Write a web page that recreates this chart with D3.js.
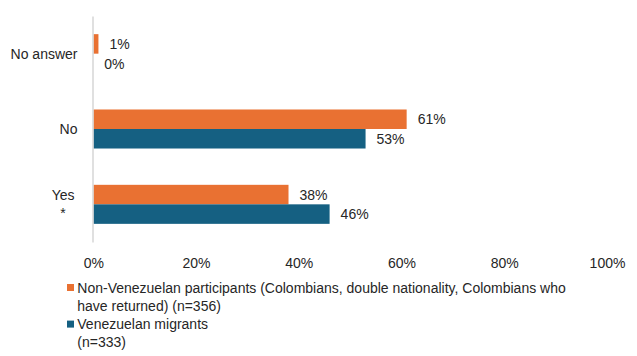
<!DOCTYPE html>
<html>
<head>
<meta charset="utf-8">
<script src="https://cdn.jsdelivr.net/npm/d3@7"></script>
<style>
  html, body { margin: 0; padding: 0; background: #fff; }
  svg { display: block; font-family: "Liberation Sans", Arial, sans-serif; }
</style>
</head>
<body>
<svg id="chart" width="637" height="356"></svg>
<script>
// Answer categories, top to bottom; each entry is one or more label lines
const categories = ["No answer", "No", "Yes"];
const categoryLines = [["No answer"], ["No"], ["Yes", "*"]];

// Series (percent of respondents)
const seriesKeys = ["nonVen", "ven"];
const nonVenezuelan = [1, 61, 38];
const venezuelan = [0, 53, 46];
const seriesLines = [
  ["Non-Venezuelan participants (Colombians, double nationality, Colombians who", "have returned) (n=356)"],
  ["Venezuelan migrants", "(n=333)"]
];
const seriesColors = ["#E97132", "#156082"];

const xTicks = [0, 20, 40, 60, 80, 100];

const textColor = "#262626";
const svg = d3.select("#chart");

const x = d3.scaleLinear().domain([0, 100]).range([93.3, 607]);
const y = d3.scaleBand().domain(categories).range([16, 242])
  .paddingInner(0.482).paddingOuter(0.241);
const ySub = d3.scaleBand().domain(seriesKeys).range([0, y.bandwidth()]);

const seriesValues = { nonVen: nonVenezuelan, ven: venezuelan };

// Bars
const groups = svg.append("g").selectAll("g")
  .data(categories)
  .join("g")
  .attr("transform", d => `translate(0,${y(d)})`);

seriesKeys.forEach((key, si) => {
  groups.append("rect")
    .attr("x", x(0))
    .attr("y", ySub(key))
    .attr("width", (d, i) => x(seriesValues[key][i]) - x(0))
    .attr("height", ySub.bandwidth())
    .attr("fill", seriesColors[si]);

  groups.append("text")
    .attr("x", (d, i) => x(seriesValues[key][i]) + 11)
    .attr("y", ySub(key) + ySub.bandwidth() / 2)
    .attr("dy", "0.37em")
    .attr("font-size", 14)
    .attr("fill", textColor)
    .text((d, i) => seriesValues[key][i] + "%");
});

// Category axis (vertical baseline)
const yAxis = svg.append("g")
  .attr("transform", `translate(${x(0) - 0.8},0)`)
  .call(d3.axisLeft(y).tickSize(0).tickFormat(""));
yAxis.select(".domain").attr("stroke", "#d9d9d9").attr("stroke-width", 1.6);

// Category labels, multi-line labels centered under each other
const catLabel = svg.append("g").selectAll("text")
  .data(categories)
  .join("text")
  .attr("font-size", 14)
  .attr("fill", textColor);

catLabel.each(function(d, i) {
  const lines = categoryLines[i];
  const t = d3.select(this);
  const cy = y(d) + y.bandwidth() / 2;
  const lh = 18;
  const top = cy - (lines.length - 1) * lh / 2;
  lines.forEach((ln, li) => {
    t.append("tspan").attr("y", top + li * lh).attr("dy", "0.36em").text(ln);
  });
  if (lines.length === 1) {
    t.attr("text-anchor", "end").selectAll("tspan").attr("x", 77.5);
  } else {
    const w = this.getBBox().width;
    t.attr("text-anchor", "middle").selectAll("tspan").attr("x", 77.5 - w / 2);
  }
});

// Value axis
const xAxis = svg.append("g")
  .attr("transform", "translate(0,242)")
  .call(d3.axisBottom(x).tickValues(xTicks).tickSize(0).tickPadding(0).tickFormat(d => d + "%"));
xAxis.select(".domain").remove();
xAxis.selectAll("text")
  .attr("y", 26)
  .attr("dy", 0)
  .attr("font-size", 14)
  .attr("font-family", "Liberation Sans, Arial, sans-serif")
  .attr("fill", textColor);

// Legend
const legendTop = 292.5;
const legendLh = 18.3;
let lineIndex = 0;
seriesLines.forEach((lines, si) => {
  const base = legendTop + lineIndex * legendLh;
  svg.append("rect")
    .attr("x", 67)
    .attr("y", base - 8.5)
    .attr("width", 7)
    .attr("height", 7)
    .attr("fill", seriesColors[si]);
  const t = svg.append("text")
    .attr("font-size", 14)
    .attr("fill", textColor);
  lines.forEach((ln, li) => {
    t.append("tspan").attr("x", 77.3).attr("y", base + li * legendLh).text(ln);
  });
  lineIndex += lines.length;
});
</script>
</body>
</html>
